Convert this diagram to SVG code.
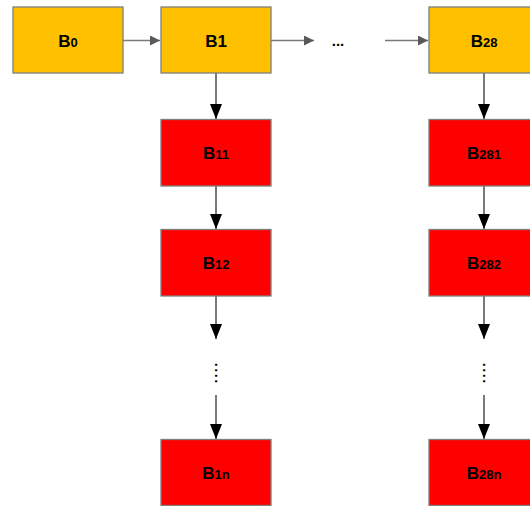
<svg xmlns="http://www.w3.org/2000/svg" width="530" height="506" viewBox="0 0 530 506">
<style>
.y{fill:#ffc000;stroke:#7f7f7f;stroke-width:1.3}
.r{fill:#ff0000;stroke:#7f7f7f;stroke-width:1.3}
.t{font-family:"Liberation Sans",Arial,sans-serif;font-weight:bold;font-size:17px;fill:#000;text-anchor:middle}
.s{font-size:13px}
.d{font-family:"Liberation Sans",Arial,sans-serif;font-size:20px;fill:#000;text-anchor:middle}
.h{stroke:#7a7a7a;stroke-width:1.4;fill:none}
.v{stroke:#595959;stroke-width:1.6;fill:none}
</style>
<defs>
<marker id="ah" markerWidth="10" markerHeight="10" refX="10" refY="5" orient="auto" markerUnits="userSpaceOnUse"><path d="M0,0 L10,5 L0,10 Z" fill="#595959"/></marker>
<marker id="av" markerWidth="15" markerHeight="12" refX="15" refY="6" orient="auto" markerUnits="userSpaceOnUse"><path d="M0,0 L15,6 L0,12 Z" fill="#000"/></marker>
</defs>
<g id="connectors">
<line class="h" x1="123" y1="40.5" x2="160" y2="40.5" marker-end="url(#ah)"/>
<line class="h" x1="271" y1="40.5" x2="314" y2="40.5" marker-end="url(#ah)"/>
<line class="h" x1="385" y1="40.5" x2="428" y2="40.5" marker-end="url(#ah)"/>
<line class="v" x1="216" y1="73" x2="216" y2="119" marker-end="url(#av)"/>
<line class="v" x1="216" y1="186" x2="216" y2="229" marker-end="url(#av)"/>
<line class="v" x1="216" y1="296" x2="216" y2="339" marker-end="url(#av)"/>
<line class="v" x1="216" y1="395" x2="216" y2="439" marker-end="url(#av)"/>
<line class="v" x1="484" y1="73" x2="484" y2="119" marker-end="url(#av)"/>
<line class="v" x1="484" y1="186" x2="484" y2="229" marker-end="url(#av)"/>
<line class="v" x1="484" y1="296" x2="484" y2="339" marker-end="url(#av)"/>
<line class="v" x1="484" y1="395" x2="484" y2="439" marker-end="url(#av)"/>
</g>
<g id="B0"><rect class="y" x="13" y="7" width="110" height="66"/><text class="t" x="68" y="46.5">B<tspan class="s">0</tspan></text></g>
<g id="B1"><rect class="y" x="161" y="7" width="110" height="66"/><text class="t" x="216" y="46.5">B1</text></g>
<g id="B28"><rect class="y" x="429" y="7" width="110" height="66"/><text class="t" x="484" y="46.5">B<tspan class="s">28</tspan></text></g>
<g id="B11"><rect class="r" x="161" y="119.5" width="110" height="66.5"/><text class="t" x="216" y="159">B<tspan class="s">11</tspan></text></g>
<g id="B12"><rect class="r" x="161" y="229.5" width="110" height="66.5"/><text class="t" x="216" y="269">B<tspan class="s">12</tspan></text></g>
<g id="B1n"><rect class="r" x="161" y="439.5" width="110" height="66"/><text class="t" x="216" y="479">B<tspan class="s">1n</tspan></text></g>
<g id="B281"><rect class="r" x="429" y="119.5" width="110" height="66.5"/><text class="t" x="484" y="159">B<tspan class="s">281</tspan></text></g>
<g id="B282"><rect class="r" x="429" y="229.5" width="110" height="66.5"/><text class="t" x="484" y="269">B<tspan class="s">282</tspan></text></g>
<g id="B28n"><rect class="r" x="429" y="439.5" width="110" height="66"/><text class="t" x="484" y="479">B<tspan class="s">28n</tspan></text></g>
<g id="ellipsis-h"><text class="t" x="338" y="46" style="font-size:15px">...</text></g>
<g id="ellipsis-v1"><text class="d" transform="translate(214.5,373) rotate(90)">....</text></g>
<g id="ellipsis-v2"><text class="d" transform="translate(482.5,373) rotate(90)">....</text></g>
</svg>
